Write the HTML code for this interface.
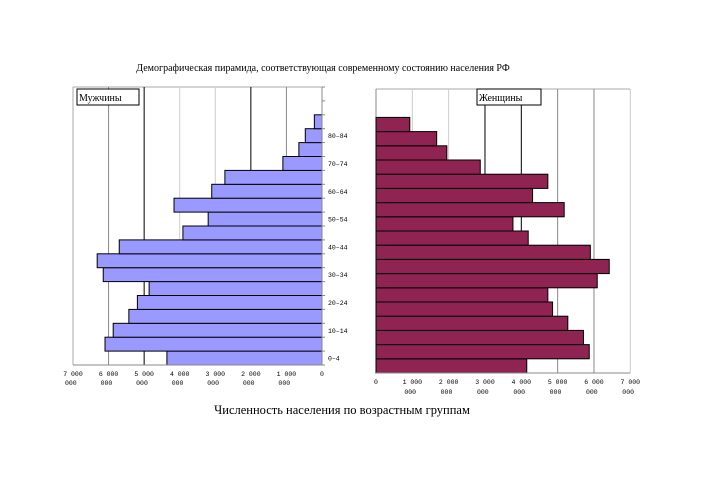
<!DOCTYPE html>
<html><head><meta charset="utf-8"><style>
body{margin:0;background:#fff;}
svg{display:block;font-family:"Liberation Serif","Noto Serif CJK SC",serif;}
.tk{font-family:"Liberation Mono","DejaVu Sans Mono",monospace;font-size:6.5px;fill:#000;}
</style></head><body>
<svg id="chart" width="727" height="494" viewBox="0 0 727 494">
<text x="323" y="71" font-size="10" text-anchor="middle">Демографическая пирамида, соответствующая современному состоянию населения РФ</text>
<text x="342" y="414" font-size="12.5" text-anchor="middle">Численность населения по возрастным группам</text>
<g id="left"></g><g id="right"></g>
</svg>
<script>
const categories=["0-4","5-9","10-14","15-19","20-24","25-29","30-34","35-39","40-44","45-49","50-54","55-59","60-64","65-69","70-74","75-79","80-84","85+"];
const maleValues=[4360,6100,5870,5430,5190,4860,6150,6320,5700,3910,3200,4160,3100,2730,1100,650,470,215];
const femaleValues=[4150,5870,5710,5280,4860,4730,6090,6420,5900,4190,3770,5180,4310,4730,2870,1950,1670,930];
const tickValues=[0,1000,2000,3000,4000,5000,6000,7000];
const tickLabels=[["0",""],["1 000","000"],["2 000","000"],["3 000","000"],["4 000","000"],["5 000","000"],["6 000","000"],["7 000","000"]];
const NS="http://www.w3.org/2000/svg";
function mk(p,t,a){const e=document.createElementNS(NS,t);for(const k in a)e.setAttribute(k,a[k]);p.appendChild(e);return e;}
// left (male)
const L=document.getElementById('left');
const lx=v=>322-v*(249/7000);
const lTop=87,lBot=365,lRow=(lBot-lTop)/20;
const ly=i=>lBot-(i+1)*lRow;
const lGridCol=["#999","#888","#000","#ccc","#ccc","#000","#888","#aaa"];
mk(L,'line',{x1:73,y1:lTop,x2:322,y2:lTop,stroke:'#aaa'});
tickValues.forEach((v,i)=>{
 const g=mk(L,'line',{x1:lx(v),y1:lTop,x2:lx(v),y2:lBot,stroke:lGridCol[i]});
 
 
 const t1=mk(L,'text',{x:lx(v),y:376,'text-anchor':'middle',class:'tk'});t1.textContent=tickLabels[i][0];
 
 
 if(tickLabels[i][1]){const t2=mk(L,'text',{x:lx(v)-8,y:385,class:'tk'});t2.textContent=tickLabels[i][1];
 
 }
});
maleValues.forEach((v,i)=>{
 const r=mk(L,'rect',{x:lx(v),y:ly(i),width:lx(0)-lx(v),height:lRow,fill:'#9999ff',stroke:'#000','stroke-width':1});
 
 
});
for(let i=0;i<=20;i++){mk(L,'line',{x1:322,y1:lBot-i*lRow,x2:325,y2:lBot-i*lRow,stroke:'#888'});}
mk(L,'line',{x1:322,y1:lTop,x2:322,y2:lBot,stroke:'#888'});
mk(L,'line',{x1:73,y1:lBot,x2:322,y2:lBot,stroke:'#888'});
categories.forEach((c,i)=>{if(i%2==0){const t=mk(L,'text',{x:328,y:ly(i)+lRow/2+2.5,class:'tk'});t.textContent=c.replace('-','–');
 
 }});
const lb=mk(L,'rect',{x:77,y:89,width:62,height:16,fill:'#fff',stroke:'#000'});

const lt=mk(L,'text',{x:79,y:101,'font-size':10});lt.textContent='Мужчины';

// right (female)
const R=document.getElementById('right');
const rx=v=>376+v*(254.3/7000);
const rTop=89,rBot=373,rRow=14.2;
const ry=i=>rBot-(i+1)*rRow;
const rGridCol=["#888","#ccc","#ccc","#000","#000","#888","#888","#ccc"];
mk(R,'line',{x1:376,y1:rTop,x2:630,y2:rTop,stroke:'#aaa'});
tickValues.forEach((v,i)=>{
 const g=mk(R,'line',{x1:rx(v),y1:rTop,x2:rx(v),y2:rBot,stroke:rGridCol[i]});
 
 
 const t1=mk(R,'text',{x:rx(v),y:384,'text-anchor':'middle',class:'tk'});t1.textContent=tickLabels[i][0];
 
 
 if(tickLabels[i][1]){const t2=mk(R,'text',{x:rx(v)-8,y:394,class:'tk'});t2.textContent=tickLabels[i][1];
 
 }
});
femaleValues.forEach((v,i)=>{
 const r=mk(R,'rect',{x:rx(0),y:ry(i),width:rx(v)-rx(0),height:rRow,fill:'#8f2352',stroke:'#000','stroke-width':1});
 
 
});
mk(R,'line',{x1:376,y1:rBot,x2:630,y2:rBot,stroke:'#888'});
const rb=mk(R,'rect',{x:477,y:89,width:64,height:16,fill:'#fff',stroke:'#000'});

const rt=mk(R,'text',{x:479,y:101,'font-size':10});rt.textContent='Женщины';

</script>
</body></html>
